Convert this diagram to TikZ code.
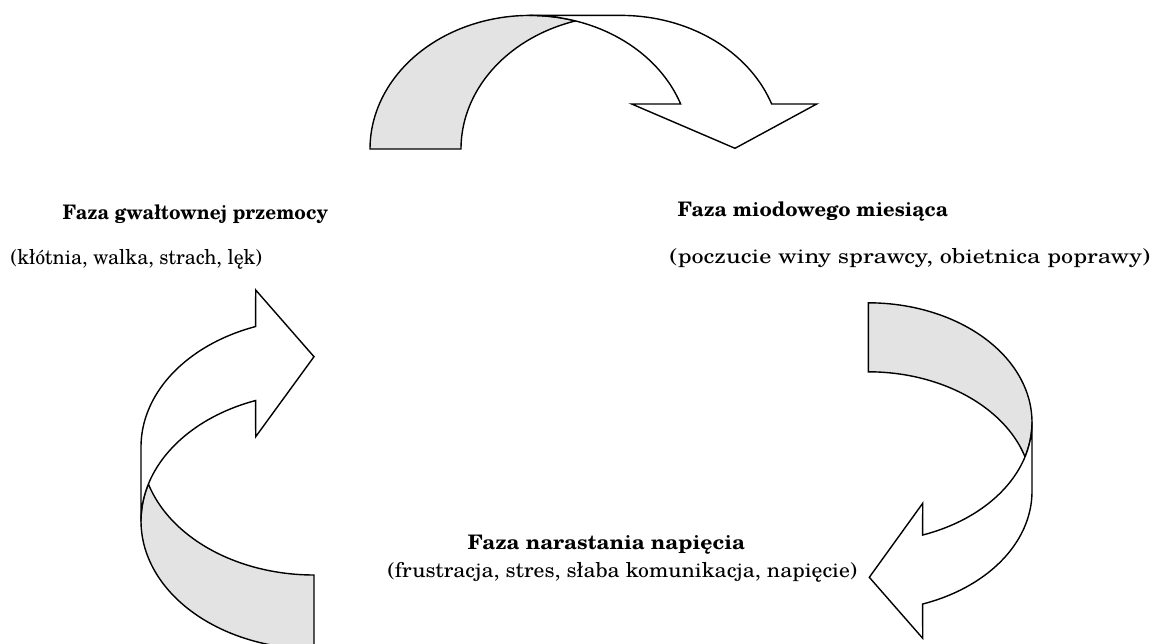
\documentclass[tikz,border=0pt]{standalone}
\usepackage{fontspec}
\setmainfont{texgyreschola}[Extension=.otf, UprightFont=*-regular, BoldFont=*-bold, ItalicFont=*-italic, BoldItalicFont=*-bolditalic]
\begin{document}
\begin{tikzpicture}[x=1pt,y=-1pt, line width=1.4pt, line join=miter,
  backband/.style={fill=black!11, draw=black},
  frontband/.style={fill=white, draw=black},
  phasetitle/.style={anchor=base west, inner sep=0pt, font=\fontsize{20}{23}\selectfont\bfseries},
  phasesub/.style={anchor=base west, inner sep=0pt, font=\fontsize{20.5}{24}\selectfont}]
\useasboundingbox (0,0) rectangle (1157,643);

% ---- top arrow (curved down) ----
\path[backband] (370,149)
  -- plot[domain=180:286.5,samples=60] ({530+160*cos(\x)},{149+133.6*sin(\x)})
  -- plot[domain=253.5:180,samples=60] ({621+160*cos(\x)},{149+133.6*sin(\x)})
  -- cycle;
\path[frontband] (530,15.4) -- (621,15.4)
  -- plot[domain=270:340.3,samples=60] ({621+160*cos(\x)},{149+133.6*sin(\x)})
  -- (816.7,104) -- (735,148.3) -- (631.7,104)
  -- plot[domain=340.3:270,samples=60] ({530+160*cos(\x)},{149+133.6*sin(\x)})
  -- cycle;

% ---- left arrow (curved right, flipped) ----
\path[backband] (314,649)
  -- plot[domain=90:196.8,samples=60] ({314+173*cos(\x)},{521+128*sin(\x)})
  -- plot[domain=163.2:90,samples=60] ({314+173*cos(\x)},{447+128*sin(\x)})
  -- cycle;
\path[frontband] (141,521) -- (141,447)
  -- plot[domain=180:250.3,samples=60] ({314+173*cos(\x)},{447+128*sin(\x)})
  -- (255.7,290) -- (314,356.7) -- (255.7,436.7)
  -- plot[domain=250.3:180,samples=60] ({314+173*cos(\x)},{521+128*sin(\x)})
  -- cycle;

% ---- right arrow (curved left) ----
\path[backband] (868.3,302.8)
  -- plot[domain=-90:16.8,samples=60] ({868.3+163.7*cos(\x)},{422.3+119.5*sin(\x)})
  -- plot[domain=-16.8:-90,samples=60] ({868.3+163.7*cos(\x)},{491.3+119.5*sin(\x)})
  -- cycle;
\path[frontband] (1032,422.3) -- (1032,491.3)
  -- plot[domain=0:70.6,samples=60] ({868.3+163.7*cos(\x)},{491.3+119.5*sin(\x)})
  -- (922.7,638.3) -- (869.3,577.3) -- (922.7,503.3)
  -- plot[domain=70.6:0,samples=60] ({868.3+163.7*cos(\x)},{422.3+119.5*sin(\x)})
  -- cycle;

% ---- texts ----
\node[phasetitle] (violT) at (62,219) {\scalebox{0.946}[1]{Faza gwałtownej przemocy}};
\node[phasesub]   (violS) at (10,264) {\scalebox{0.969}[1]{(kłótnia, walka, strach, lęk)}};
\node[phasetitle] (honT)  at (677,216) {\scalebox{1.006}[1]{Faza miodowego miesiąca}};
\node[phasesub]   (honS)  at (669,263) {\scalebox{1.18}[1]{(poczucie winy sprawcy, obietnica poprawy)}};
\node[phasetitle] (tenT)  at (467,549) {\scalebox{1.06}[1]{Faza narastania napięcia}};
\node[phasesub]   (tenS)  at (387,577) {\scalebox{1.06}[1]{(frustracja, stres, słaba komunikacja, napięcie)}};
\end{tikzpicture}
\end{document}
